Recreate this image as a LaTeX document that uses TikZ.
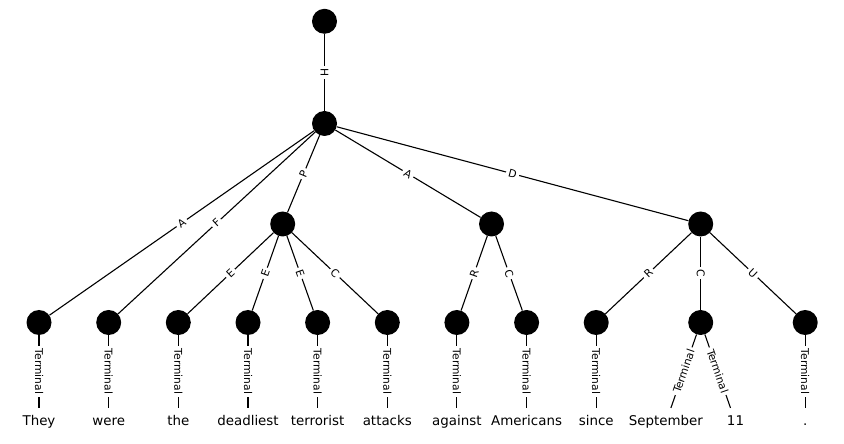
\documentclass[tikz,border=0pt]{standalone}
\usepackage{fontspec}
\setmainfont{DejaVu Sans}
\newfontfamily\lblfont{DejaVu Sans}
\begin{document}
\begin{tikzpicture}[x=1bp,y=-1bp,
  vtx/.style={circle, fill=black, minimum size=25bp, inner sep=0pt},
  word/.style={font=\fontsize{13.4bp}{16bp}\selectfont, text height=10.2bp, text depth=3.2bp, inner xsep=3bp, inner ysep=7.5bp},
  lbl/.style={midway, sloped, fill=white, inner sep=2.5bp, font=\lblfont\fontsize{10.7bp}{12bp}\selectfont},
  edge/.style={line width=1.1bp, black}]
\useasboundingbox (0,0) rectangle (844,444);
% vertices
\node[vtx] (r0) at (324.5,21.3) {};
\node[vtx] (r1) at (324.5,123.5) {};
\node[vtx] (p) at (282.7,224) {};
\node[vtx] (a) at (491.5,224) {};
\node[vtx] (d) at (700.7,224) {};
\node[vtx] (l1) at (39,322.5) {};
\node[vtx] (l2) at (108.7,322.5) {};
\node[vtx] (l3) at (178.3,322.5) {};
\node[vtx] (l4) at (248,322.5) {};
\node[vtx] (l5) at (317.6,322.5) {};
\node[vtx] (l6) at (387.3,322.5) {};
\node[vtx] (l7) at (456.9,322.5) {};
\node[vtx] (l8) at (526.6,322.5) {};
\node[vtx] (l9) at (596.2,322.5) {};
\node[vtx] (l10) at (700.7,322.5) {};
\node[vtx] (l11) at (805.2,322.5) {};
% words
\node[word] (w1) at (39,422.3) {They};
\node[word] (w2) at (108.7,422.3) {were};
\node[word] (w3) at (178.3,422.3) {the};
\node[word] (w4) at (248,422.3) {deadliest};
\node[word] (w5) at (317.6,422.3) {terrorist};
\node[word] (w6) at (387.3,422.3) {attacks};
\node[word] (w7) at (456.9,422.3) {against};
\node[word] (w8) at (526.6,422.3) {Americans};
\node[word] (w9) at (596.2,422.3) {since};
\node[word] (w10) at (665.9,422.3) {September};
\node[word] (w11) at (735.5,422.3) {11};
\node[word] (w12) at (805.2,422.3) {.};
% edges
\draw[edge] (r0) -- node[lbl]{H} (r1);
\draw[edge] (r1) -- node[lbl]{A} (l1);
\draw[edge] (r1) -- node[lbl]{F} (l2);
\draw[edge] (r1) -- node[lbl]{P} (p);
\draw[edge] (r1) -- node[lbl]{A} (a);
\draw[edge] (r1) -- node[lbl]{D} (d);
\draw[edge] (p) -- node[lbl]{E} (l3);
\draw[edge] (p) -- node[lbl]{E} (l4);
\draw[edge] (p) -- node[lbl]{E} (l5);
\draw[edge] (p) -- node[lbl]{C} (l6);
\draw[edge] (a) -- node[lbl]{R} (l7);
\draw[edge] (a) -- node[lbl]{C} (l8);
\draw[edge] (d) -- node[lbl]{R} (l9);
\draw[edge] (d) -- node[lbl]{C} (l10);
\draw[edge] (d) -- node[lbl]{U} (l11);
\draw[edge] (l1) -- node[lbl]{Terminal} (w1);
\draw[edge] (l2) -- node[lbl]{Terminal} (w2);
\draw[edge] (l3) -- node[lbl]{Terminal} (w3);
\draw[edge] (l4) -- node[lbl]{Terminal} (w4);
\draw[edge] (l5) -- node[lbl]{Terminal} (w5);
\draw[edge] (l6) -- node[lbl]{Terminal} (w6);
\draw[edge] (l7) -- node[lbl]{Terminal} (w7);
\draw[edge] (l8) -- node[lbl]{Terminal} (w8);
\draw[edge] (l9) -- node[lbl]{Terminal} (w9);
\draw[edge] (l10) -- node[lbl]{Terminal} (w10);
\draw[edge] (l10) -- node[lbl]{Terminal} (w11);
\draw[edge] (l11) -- node[lbl]{Terminal} (w12);
\end{tikzpicture}
\end{document}
